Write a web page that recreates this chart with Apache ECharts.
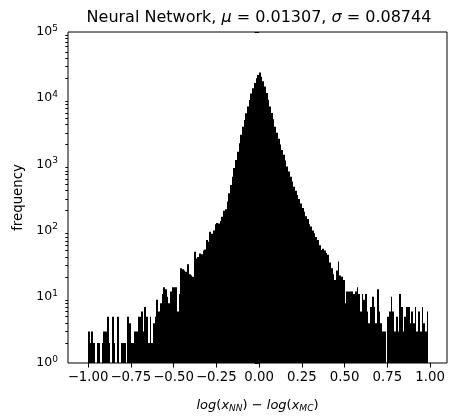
<!DOCTYPE html>
<html><head><meta charset="utf-8">
<script src="https://cdn.jsdelivr.net/npm/echarts@6/dist/echarts.min.js"></script>
<style>html,body{margin:0;padding:0;background:#fff}#c{width:449px;height:419px}</style>
</head><body><div id="c"></div>
<script>
// Histogram bins: left edge of first bin and bin width
const binStart = -1.0;
const binWidth = 0.01;
// Counts per bin, bins from -1.00 to 0.99
const counts = [
  3, 2, 3, 2, 0, 2, 2, 0, 2, 3,
  3, 5, 2, 0, 5, 2, 0, 5, 0, 2,
  2, 2, 0, 5, 4, 2, 2, 3, 3, 5,
  5, 6, 3, 7, 5, 2, 5, 2, 4, 5,
  9, 6, 8, 11, 14, 13, 10, 8, 12, 14,
  14, 14, 6, 11, 27, 26, 25, 24, 31, 22,
  21, 20, 48, 38, 40, 45, 44, 50, 52, 72,
  68, 96, 90, 100, 125, 130, 128, 140, 162, 200,
  210, 275, 366, 490, 650, 880, 1165, 1550, 2090, 2800,
  3720, 4700, 5900, 7500, 9400, 11800, 14100, 17000, 20000, 22500,
  24500, 21000, 18000, 15000, 12000, 9500, 7500, 6000, 4800, 3700,
  3000, 2450, 2000, 1650, 1400, 1150, 930, 780, 650, 550,
  460, 400, 345, 300, 257, 220, 193, 165, 150, 125,
  115, 100, 91, 80, 72, 60, 51, 53, 50, 46,
  43, 33, 27, 22, 18, 25, 34, 21, 20, 18,
  8, 12, 12, 12, 12, 11, 12, 14, 11, 6,
  11, 9, 11, 6, 4, 7, 10, 7, 4, 13,
  6, 4, 3, 3, 0, 5, 6, 10, 6, 3,
  5, 3, 11, 7, 3, 5, 7, 7, 4, 6,
  4, 7, 3, 6, 3, 7, 4, 3, 6
];
const xTicks = [-1, -0.75, -0.5, -0.25, 0, 0.25, 0.5, 0.75, 1];
const titleText = '{n|Neural Network, }{i|μ}{n| = 0.01307, }{i|σ}{n| = 0.08744}';
const xName = '{i|log}{n|(}{i|x}{s|NN}{n|) − }{i|log}{n|(}{i|x}{s|MC}{n|)}';
const yName = 'frequency';

// minor tick positions (2..9 per decade), expressed as decade exponents for a linear helper axis
const yMinorExp = [];
for (let d = 1; d < 100000; d *= 10) for (let m = 2; m <= 9; m++) yMinorExp.push(Math.log10(m * d));

// [binLeft, binRight, count]
const binData = [];
counts.forEach((c, i) => {
  if (c > 0) binData.push([binStart + i * binWidth, binStart + (i + 1) * binWidth, c]);
});

const FONT = 'DejaVu Sans';
const chart = echarts.init(document.getElementById('c'), null, {renderer: 'canvas'});
chart.setOption({
  animation: false,
  backgroundColor: '#fff',
  textStyle: {fontFamily: FONT, color: '#000'},
  title: {
    text: titleText,
    left: 254, top: 5, textAlign: 'center',
    textStyle: {
      rich: {
        n: {fontFamily: FONT, fontSize: 16, color: '#000', fontWeight: 'normal'},
        i: {fontFamily: FONT, fontSize: 16, color: '#000', fontStyle: 'italic', fontWeight: 'normal'}
      }
    }
  },
  grid: {left: 68, right: 2, top: 32, bottom: 56, show: true, borderColor: '#000', borderWidth: 1, backgroundColor: 'transparent'},
  xAxis: {
    type: 'value', min: -1.117, max: 1.099,
    axisLine: {show: false},
    splitLine: {show: false},
    axisTick: {show: true, length: 4.5, lineStyle: {color: '#000'}, customValues: xTicks},
    axisLabel: {
      show: true, customValues: xTicks, margin: 8, fontSize: 13.3, color: '#000', fontFamily: FONT,
      formatter: v => (v < 0 ? '\u2212' : '') + Math.abs(v).toFixed(2)
    },
    name: xName, nameLocation: 'middle', nameGap: 35,
    nameTextStyle: {
      rich: {
        n: {fontFamily: FONT, fontSize: 13, color: '#000'},
        i: {fontFamily: FONT, fontSize: 13, color: '#000', fontStyle: 'italic'},
        s: {fontFamily: FONT, fontSize: 9, color: '#000', fontStyle: 'italic', padding: [6, 0, 0, 0]}
      }
    }
  },
  yAxis: [{
    type: 'log', logBase: 10, min: 1, max: 100000, position: 'left',
    axisLine: {show: false},
    splitLine: {show: false},
    axisTick: {show: true, length: 4.5, lineStyle: {color: '#000'}},
    axisLabel: {
      show: true, margin: 10, color: '#000',
      formatter: v => '{b|10}{sup|' + Math.round(Math.log10(v)) + '}',
      rich: {
        b: {fontFamily: FONT, fontSize: 12.5, color: '#000'},
        sup: {fontFamily: FONT, fontSize: 9, color: '#000', padding: [0, 0, 7, 0]}
      }
    },
    name: yName, nameLocation: 'middle', nameGap: 36,
    nameTextStyle: {fontFamily: FONT, fontSize: 13.3, color: '#000'}
  }, {
    type: 'value', min: 0, max: 5, position: 'left',
    axisLine: {show: false},
    splitLine: {show: false},
    axisLabel: {show: false},
    axisTick: {show: true, length: 2.7, lineStyle: {color: '#000'}, customValues: yMinorExp}
  }],
  series: [{
    type: 'custom',
    data: binData,
    xAxisIndex: 0, yAxisIndex: 0,
    encode: {x: [0, 1], y: 2},
    renderItem: (params, api) => {
      const top = api.coord([api.value(0), api.value(2)]);
      const bottom = api.coord([api.value(1), 1]);
      const x0 = Math.round(top[0]), x1 = Math.round(bottom[0]);
      return {
        type: 'rect',
        shape: {x: x0, y: top[1], width: Math.max(1, x1 - x0), height: bottom[1] - top[1]},
        style: {fill: '#000'}
      };
    }
  }]
});
</script></body></html>
